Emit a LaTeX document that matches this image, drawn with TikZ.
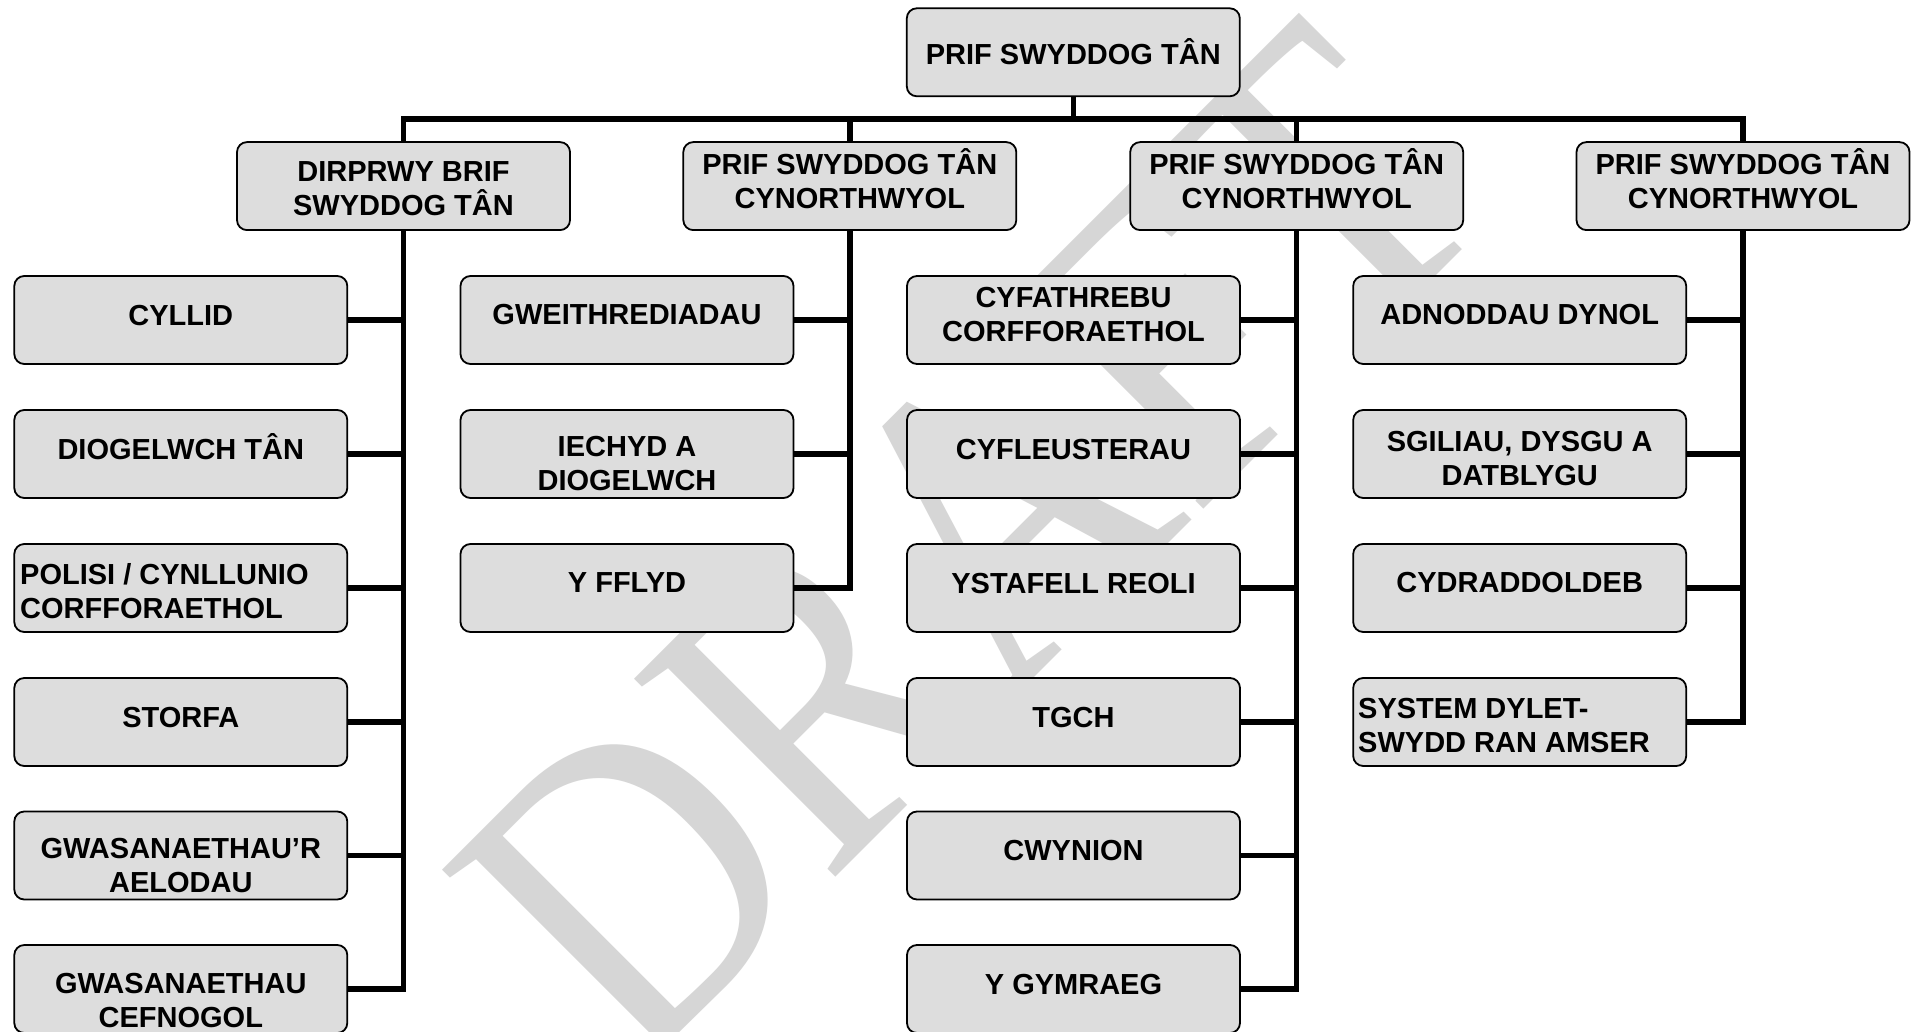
\documentclass[tikz,border=0pt]{standalone}
\usepackage{fontspec}
\setmainfont{Liberation Sans}
\newfontfamily\wmfamily{Liberation Serif}
\definecolor{boxgray}{RGB}{221,221,221}
\definecolor{wmgray}{RGB}{214,214,214}
\newcommand\lblfont{\fontsize{29}{34}\selectfont\bfseries}
\tikzset{
  box/.style={draw=black, line width=1.8pt, fill=boxgray, rounded corners=10pt,
              minimum width=333pt, minimum height=88pt, inner sep=0pt},
  lbl/.style={font=\lblfont, align=center, inner sep=0pt, anchor=base},
  lbll/.style={font=\lblfont, align=left, inner sep=0pt, anchor=base west},
  conn/.style={line width=5.5pt, line join=miter},
  wm/.style={font=\wmfamily\fontsize{375}{375}\selectfont, text=wmgray, inner sep=0pt},
}
\begin{document}
\begin{tikzpicture}[x=1pt, y=-1pt]
\useasboundingbox (0,0) rectangle (1914,1032);
\clip (0,0) rectangle (1914,1032);
\fill[white] (0,0) rectangle (1914,1032);

% watermark
\node[wm, anchor=base west, rotate=45, yscale=1.15] (wmark) at (634.5,1078) {DRAFT};

% top level
\node[box] (top) at (1073.3,52.3) {};
\node[lbl] (ttop) at (1073.3,64.3) {PRIF SWYDDOG TÂN};

% second level
\node[box] (La) at (403.5,186.1) {};
\node[box] (Lb) at (849.8,186.1) {};
\node[box] (Lc) at (1296.7,186.1) {};
\node[box] (Ld) at (1743,186.1) {};
\node[lbl] (tLa) at (403.5,216) {DIRPRWY BRIF\\SWYDDOG TÂN};
\node[lbl] (tLb) at (849.8,208.3) {PRIF SWYDDOG TÂN\\CYNORTHWYOL};
\node[lbl] (tLc) at (1296.7,208.3) {PRIF SWYDDOG TÂN\\CYNORTHWYOL};
\node[lbl] (tLd) at (1743,208.3) {PRIF SWYDDOG TÂN\\CYNORTHWYOL};

% column 1
\node[box] (a1) at (180.8,320) {};
\node[box] (a2) at (180.8,454) {};
\node[box] (a3) at (180.8,588) {};
\node[box] (a4) at (180.8,722) {};
\node[box] (a5) at (180.8,855.5) {};
\node[box] (a6) at (180.8,989) {};
\node[lbl] (ta1) at (180.8,325) {CYLLID};
\node[lbl] (ta2) at (180.8,459.3) {DIOGELWCH TÂN};
\node[lbll] (ta3) at (20,618.3) {POLISI / CYNLLUNIO\\CORFFORAETHOL};
\node[lbl] (ta4) at (180.8,727) {STORFA};
\node[lbl] (ta5) at (180.8,892) {GWASANAETHAU’R\\AELODAU};
\node[lbl] (ta6) at (180.8,1027) {GWASANAETHAU\\CEFNOGOL};

% column 2
\node[box] (b1) at (627,320) {};
\node[box] (b2) at (627,454) {};
\node[box] (b3) at (627,588) {};
\node[lbl] (tb1) at (627,324.3) {GWEITHREDIADAU};
\node[lbl] (tb2) at (627,490.7) {IECHYD A\\DIOGELWCH};
\node[lbl] (tb3) at (627,592.7) {Y FFLYD};

% column 3
\node[box] (c1) at (1073.5,320) {};
\node[box] (c2) at (1073.5,454) {};
\node[box] (c3) at (1073.5,588) {};
\node[box] (c4) at (1073.5,722) {};
\node[box] (c5) at (1073.5,855.5) {};
\node[box] (c6) at (1073.5,989) {};
\node[lbl] (tc1) at (1073.5,341.7) {CYFATHREBU\\CORFFORAETHOL};
\node[lbl] (tc2) at (1073.5,459) {CYFLEUSTERAU};
\node[lbl] (tc3) at (1073.5,593) {YSTAFELL REOLI};
\node[lbl] (tc4) at (1073.5,727) {TGCH};
\node[lbl] (tc5) at (1073.5,860.5) {CWYNION};
\node[lbl] (tc6) at (1073.5,994.3) {Y GYMRAEG};

% column 4
\node[box] (d1) at (1519.7,320) {};
\node[box] (d2) at (1519.7,454) {};
\node[box] (d3) at (1519.7,588) {};
\node[box] (d4) at (1519.7,722) {};
\node[lbl] (td1) at (1519.7,324.3) {ADNODDAU DYNOL};
\node[lbl] (td2) at (1519.7,485) {SGILIAU, DYSGU A\\DATBLYGU};
\node[lbl] (td3) at (1519.7,592.3) {CYDRADDOLDEB};
\node[lbll] (td4) at (1358,752.7) {SYSTEM DYLET-\\SWYDD RAN AMSER};

% bus
\coordinate (bus) at (1073.3,119);
\draw[conn] (top.south) -- (top.south |- bus);
\draw[conn] (La.north) |- (Ld.north |- bus) -- (Ld.north);
\draw[conn] (Lb.north) -- (Lb.north |- bus);
\draw[conn] (Lc.north) -- (Lc.north |- bus);

% column 1 connectors
\draw[conn] (La.south) |- (a6.east);
\foreach \n in {a1,a2,a3,a4,a5} \draw[conn] (\n.east) -- (\n.east -| La.south);
% column 2 connectors
\draw[conn] (Lb.south) |- (b3.east);
\foreach \n in {b1,b2} \draw[conn] (\n.east) -- (\n.east -| Lb.south);
% column 3 connectors
\draw[conn] (Lc.south) |- (c6.east);
\foreach \n in {c1,c2,c3,c4,c5} \draw[conn] (\n.east) -- (\n.east -| Lc.south);
% column 4 connectors
\draw[conn] (Ld.south) |- (d4.east);
\foreach \n in {d1,d2,d3} \draw[conn] (\n.east) -- (\n.east -| Ld.south);
\end{tikzpicture}
\end{document}
